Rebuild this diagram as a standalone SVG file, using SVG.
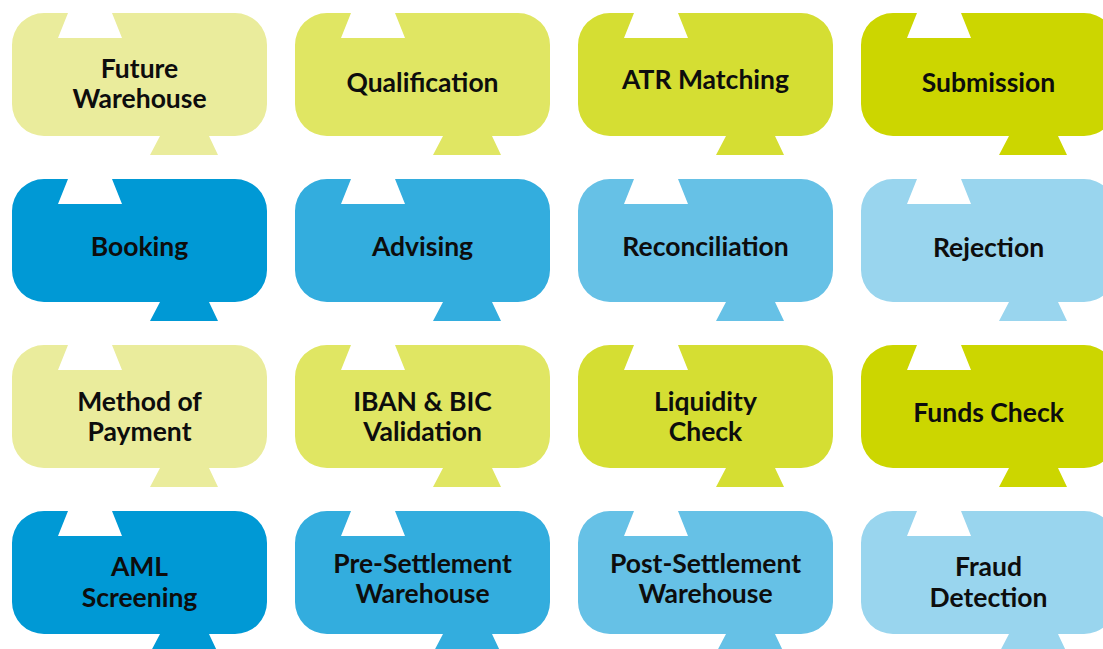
<svg xmlns="http://www.w3.org/2000/svg" xmlns:xlink="http://www.w3.org/1999/xlink" width="1103" height="649" viewBox="0 0 1103 649">
<style>
  text { font-family: Lato, "Open Sans", "Noto Sans", sans-serif; font-weight: 700; font-size: 26.5px; fill: #0D0D0D; text-anchor: middle; }
  .c1 { fill: #EAEC9C; }
  .c2 { fill: #E0E663; }
  .c3 { fill: #D5DE33; }
  .c4 { fill: #CCD600; }
  .b1 { fill: #0099D5; }
  .b2 { fill: #33ADDE; }
  .b3 { fill: #66C1E6; }
  .b4 { fill: #99D5EE; }
</style>
<defs>
  <path id="shape" d="M 32 0 H 56 L 46 25 H 110 L 100 0 H 223 A 32 32 0 0 1 255 32 V 91 A 32 32 0 0 1 223 123 H 197 L 206 142 H 138 L 148 123 H 32 A 32 32 0 0 1 0 91 V 32 A 32 32 0 0 1 32 0 Z"/>
</defs>
<rect width="1103" height="649" fill="#FFFFFF"/>
<g id="connectors"></g>

<g id="future-warehouse"><use xlink:href="#shape" x="12" y="13" class="c1"/><text x="139.5" y="78">Future</text><text x="139.5" y="108">Warehouse</text></g>
<g id="qualification"><use xlink:href="#shape" x="295" y="13" class="c2"/><text x="422.5" y="92">Qualification</text></g>
<g id="atr-matching"><use xlink:href="#shape" x="578" y="13" class="c3"/><text x="705.5" y="89">ATR Matching</text></g>
<g id="submission"><use xlink:href="#shape" x="861" y="13" class="c4"/><text x="988.5" y="92">Submission</text></g>

<g id="booking"><use xlink:href="#shape" x="12" y="179" class="b1"/><text x="139.5" y="256">Booking</text></g>
<g id="advising"><use xlink:href="#shape" x="295" y="179" class="b2"/><text x="422.5" y="256">Advising</text></g>
<g id="reconciliation"><use xlink:href="#shape" x="578" y="179" class="b3"/><text x="705.5" y="256">Reconciliation</text></g>
<g id="rejection"><use xlink:href="#shape" x="861" y="179" class="b4"/><text x="988.5" y="257">Rejection</text></g>

<g id="method-of-payment"><use xlink:href="#shape" x="12" y="345" class="c1"/><text x="139.5" y="411">Method of</text><text x="139.5" y="441">Payment</text></g>
<g id="iban-bic-validation"><use xlink:href="#shape" x="295" y="345" class="c2"/><text x="422.5" y="411">IBAN &amp; BIC</text><text x="422.5" y="441">Validation</text></g>
<g id="liquidity-check"><use xlink:href="#shape" x="578" y="345" class="c3"/><text x="705.5" y="411">Liquidity</text><text x="705.5" y="441">Check</text></g>
<g id="funds-check"><use xlink:href="#shape" x="861" y="345" class="c4"/><text x="988.5" y="422">Funds Check</text></g>

<g id="aml-screening"><use xlink:href="#shape" x="12" y="511" class="b1"/><text x="139.5" y="576">AML</text><text x="139.5" y="607">Screening</text></g>
<g id="pre-settlement-warehouse"><use xlink:href="#shape" x="295" y="511" class="b2"/><text x="422.5" y="573">Pre-Settlement</text><text x="422.5" y="603">Warehouse</text></g>
<g id="post-settlement-warehouse"><use xlink:href="#shape" x="578" y="511" class="b3"/><text x="705.5" y="573">Post-Settlement</text><text x="705.5" y="603">Warehouse</text></g>
<g id="fraud-detection"><use xlink:href="#shape" x="861" y="511" class="b4"/><text x="988.5" y="576">Fraud</text><text x="988.5" y="607">Detection</text></g>
</svg>
